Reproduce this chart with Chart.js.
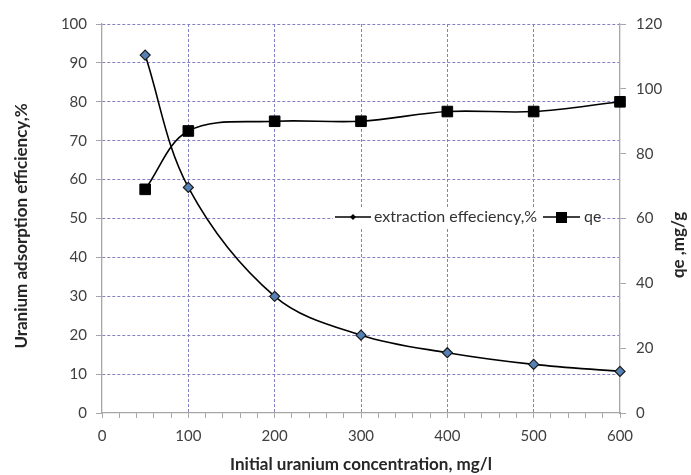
<!DOCTYPE html>
<html>
<head>
<meta charset="utf-8">
<script src="https://cdn.jsdelivr.net/npm/chart.js@4/dist/chart.umd.min.js"></script>
<style>
  html, body { margin: 0; padding: 0; background: #fff; }
  #wrap { width: 691px; height: 475px; position: relative; }
</style>
</head>
<body>
<div id="wrap"><canvas id="uraniumChart"></canvas></div>
<script>
// Initial concentration (mg/l)
const concentration = [50, 100, 200, 300, 400, 500, 600];
// Extraction efficiency, % (left axis)
const efficiency = [92, 58, 30, 20, 15.5, 12.5, 10.7];
// qe, mg/g (right axis)
const qe = [69, 87, 90, 90, 93, 93, 96];

const seriesNames = ['extraction effeciency,%', 'qe'];
const leftTitleText = 'Uranium adsorption efficiency,%';
const rightTitleText = 'qe ,mg/g';

const gridColor = '#8480c4';
const axisColor = '#a6a6a6';
const tickFont = { family: 'Lato', size: 15 };
const titleFont = { family: 'Lato', size: 17, weight: 'bold' };

function toPoints(ys) {
    return concentration.map((x, i) => ({ x: x, y: ys[i] }));
}

// legend drawn inside the plot (line + marker, like the spreadsheet legend)
const innerLegend = {
    id: 'innerLegend',
    afterDraw(chart) {
        const ctx = chart.ctx;
        const y = 217;
        ctx.save();
        ctx.fillStyle = '#fff';
        ctx.fillRect(333, y - 10, 265, 20);

        ctx.strokeStyle = '#000';
        ctx.lineWidth = 1.5;
        ctx.font = '16px Lato';
        ctx.textBaseline = 'middle';

        // extraction effeciency
        ctx.beginPath(); ctx.moveTo(335, y); ctx.lineTo(371, y); ctx.stroke();
        ctx.beginPath();
        ctx.moveTo(353, y - 3); ctx.lineTo(356, y); ctx.lineTo(353, y + 3); ctx.lineTo(350, y);
        ctx.closePath(); ctx.fillStyle = '#000'; ctx.fill();
        ctx.fillStyle = '#333';
        ctx.fillText(seriesNames[0], 374, y);

        // qe
        const x2 = 543;
        ctx.beginPath(); ctx.moveTo(x2, y); ctx.lineTo(x2 + 37, y); ctx.stroke();
        ctx.fillStyle = '#000';
        ctx.fillRect(x2 + 13, y - 5, 11, 11);
        ctx.fillStyle = '#333';
        ctx.fillText(seriesNames[1], x2 + 41, y);
        ctx.restore();
    }
};

// both vertical axis titles read bottom-to-top
const sideTitles = {
    id: 'sideTitles',
    afterDraw(chart) {
        const ctx = chart.ctx;
        const put = (text, x, y) => {
            ctx.save();
            ctx.translate(x, y);
            ctx.rotate(-Math.PI / 2);
            ctx.font = 'bold 17px Lato';
            ctx.fillStyle = '#262626';
            ctx.textAlign = 'center';
            ctx.textBaseline = 'middle';
            ctx.fillText(text, 0, 0);
            ctx.restore();
        };
        put(leftTitleText, 22, 226);
        put(rightTitleText, 679, 245);
    }
};

const ctx = document.getElementById('uraniumChart').getContext('2d');
new Chart(ctx, {
    type: 'line',
    data: {
        datasets: [
            {
                label: seriesNames[0],
                data: toPoints(efficiency),
                yAxisID: 'y',
                borderColor: '#000',
                borderWidth: 1.6,
                tension: 0.35,
                clip: false,
                pointStyle: 'rectRot',
                pointRadius: 5,
                pointBackgroundColor: '#5581b4',
                pointBorderColor: '#1a1a1a',
                pointBorderWidth: 1.2,
                fill: false
            },
            {
                label: seriesNames[1],
                data: toPoints(qe),
                yAxisID: 'y1',
                borderColor: '#000',
                borderWidth: 1.6,
                tension: 0.35,
                clip: false,
                pointStyle: 'rect',
                pointRadius: 7.5,
                pointBackgroundColor: '#000',
                pointBorderColor: '#000',
                pointBorderWidth: 1,
                fill: false
            }
        ]
    },
    options: {
        responsive: true,
        maintainAspectRatio: false,
        animation: false,
        layout: { padding: { top: 24, left: 0, right: 0, bottom: 0 } },
        plugins: {
            legend: { display: false },
            tooltip: { enabled: false }
        },
        scales: {
            x: {
                type: 'linear',
                min: 0,
                max: 600,
                afterFit: s => { s.height = 62; },
                ticks: {
                    stepSize: 20,
                    autoSkip: false,
                    maxRotation: 0,
                    padding: 9,
                    color: '#404040',
                    font: tickFont,
                    callback: v => (v % 100 === 0 ? v : '')
                },
                grid: {
                    color: c => (c.tick && c.tick.value % 100 === 0 && c.tick.value > 0 && c.tick.value < 600) ? gridColor : 'rgba(0,0,0,0)',
                    tickColor: axisColor,
                    tickLength: 5,
                    lineWidth: 1
                },
                border: { color: axisColor, width: 1.3, dash: [3, 2] },
                title: {
                    display: true,
                    text: 'Initial uranium concentration, mg/l',
                    color: '#262626',
                    font: titleFont,
                    padding: { top: 0, bottom: 0 }
                }
            },
            y: {
                position: 'left',
                min: 0,
                max: 100,
                afterFit: s => { s.width = 102; },
                ticks: {
                    stepSize: 10,
                    padding: 9,
                    color: '#404040',
                    font: tickFont
                },
                grid: {
                    color: c => (c.tick && c.tick.value > 0) ? gridColor : 'rgba(0,0,0,0)',
                    tickColor: axisColor,
                    tickLength: 6
                },
                border: { color: axisColor, width: 1.3, dash: [3, 2] }
            },
            y1: {
                position: 'right',
                min: 0,
                max: 120,
                afterFit: s => { s.width = 71; },
                ticks: {
                    stepSize: 20,
                    padding: 10,
                    color: '#404040',
                    font: tickFont
                },
                grid: {
                    drawOnChartArea: false,
                    tickColor: axisColor,
                    tickLength: 6
                },
                border: { color: axisColor, width: 1.3 }
            }
        }
    },
    plugins: [innerLegend, sideTitles]
});
</script>
</body>
</html>
